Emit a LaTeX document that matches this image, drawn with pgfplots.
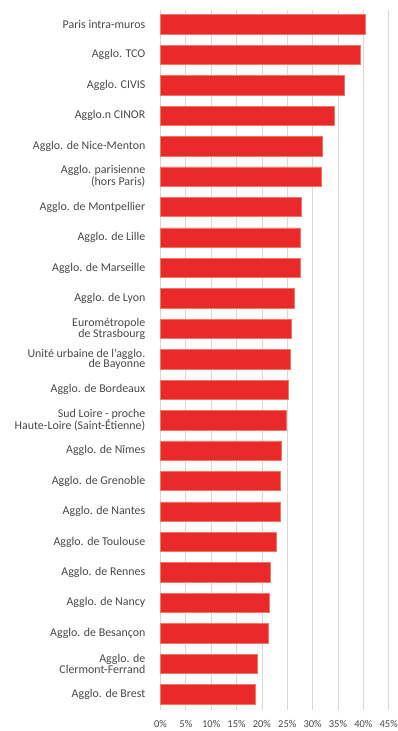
\documentclass[border=0pt]{standalone}
\usepackage{fontspec}
\setmainfont{Carlito}
\usepackage{pgfplots}
\pgfplotsset{compat=1.18}

\definecolor{barred}{RGB}{234,42,42}
\definecolor{baredge}{RGB}{242,120,96}
\definecolor{labelgray}{RGB}{72,72,72}
\definecolor{gridgray}{RGB}{217,217,217}

\begin{document}
\begin{tikzpicture}
\path[use as bounding box] (-160.5pt,-21pt) rectangle (237.5pt,710pt);
\begin{axis}[
  scale only axis,
  width=228.2pt, height=700pt,
  xbar, bar width=19.3pt,
  xmin=0, xmax=45,
  ymin=-0.47, ymax=22.52,
  y dir=reverse,
  xtick={0,5,...,45},
  xticklabel={\pgfmathprintnumber{\tick}\%},
  /pgf/number format/assume math mode=true,
  ytick={0,...,22},
  yticklabels={
    Paris intra-muros,
    Agglo. TCO,
    Agglo. CIVIS,
    Agglo.n CINOR,
    Agglo. de Nice-Menton,
    {Agglo. parisienne\\(hors Paris)},
    Agglo. de Montpellier,
    Agglo. de Lille,
    Agglo. de Marseille,
    Agglo. de Lyon,
    {Eurométropole\\de Strasbourg},
    {Unité urbaine de l'agglo.\\de Bayonne},
    Agglo. de Bordeaux,
    {Sud Loire - proche\\Haute-Loire (Saint-Étienne)},
    Agglo. de Nîmes,
    Agglo. de Grenoble,
    Agglo. de Nantes,
    Agglo. de Toulouse,
    Agglo. de Rennes,
    Agglo. de Nancy,
    Agglo. de Besançon,
    {Agglo. de\\Clermont-Ferrand},
    Agglo. de Brest},
  yticklabel style={font=\fontsize{11.9}{10.5}\selectfont, text=labelgray,
    align=right, inner sep=0pt, xshift=-15pt},
  xticklabel style={font=\fontsize{10.5}{12}\selectfont, text=labelgray,
    inner sep=0pt, yshift=-10.5pt},
  major tick length=0pt,
  axis line style={draw=none},
  xmajorgrids,
  major grid style={gridgray, line width=0.8pt},
  clip=false,
]
\addplot[fill=barred, draw=baredge, line width=0.5pt] coordinates {
  (40.3,0) (39.3,1) (36.3,2) (34.2,3) (31.8,4) (31.7,5)
  (27.7,6) (27.6,7) (27.5,8) (26.3,9) (25.7,10) (25.5,11)
  (25.1,12) (24.8,13) (23.9,14) (23.7,15) (23.6,16) (22.8,17)
  (21.6,18) (21.5,19) (21.3,20) (19.0,21) (18.7,22)
};
\end{axis}
\end{tikzpicture}
\end{document}
